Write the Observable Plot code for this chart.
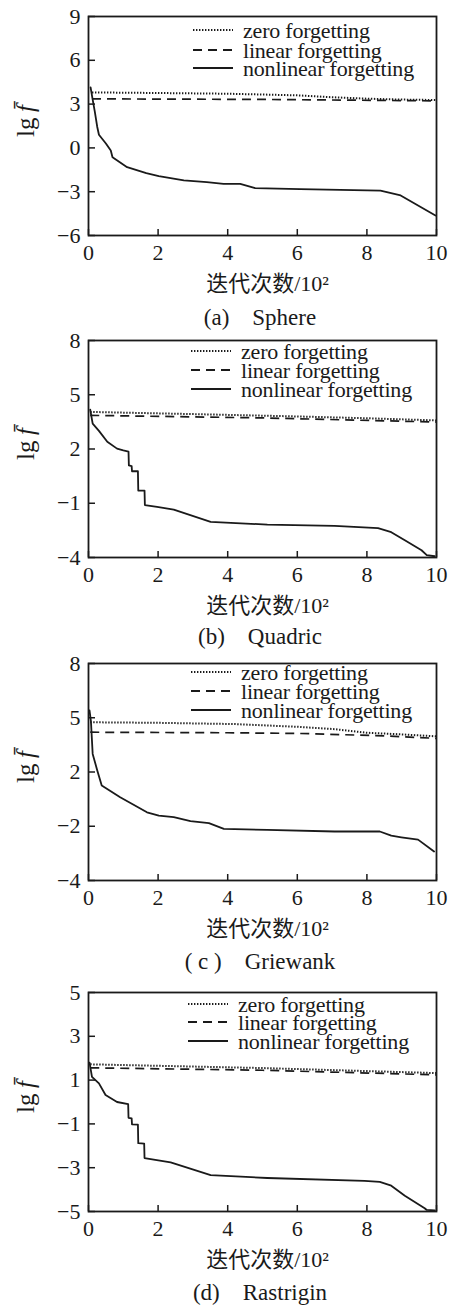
<!DOCTYPE html>
<html><head><meta charset="utf-8">
<script src="https://cdn.jsdelivr.net/npm/d3@7"></script>
<script src="https://cdn.jsdelivr.net/npm/@observablehq/plot@0.6"></script>
<style>
body{margin:0;background:#fff;}
#root{position:relative;width:449px;height:1306px;overflow:hidden;font-family:"Liberation Serif",serif;color:#1a1a1a;background:#fff;}
.panel{position:absolute;left:0;}
.caption{position:absolute;left:0;width:520px;text-align:center;font-size:23px;line-height:26px;white-space:pre;}
.legend{position:absolute;font-size:22px;line-height:17px;white-space:pre;letter-spacing:-0.2px;}
.legend .row{position:absolute;left:0;height:17px;}
.legend svg{position:absolute;left:0;top:-2px;}
.legend span{position:absolute;top:0;}
</style></head><body><div id="root"></div>
<script>
// ---------- shared ----------
const xTicks = [0, 2, 4, 6, 8, 10];
const seriesNames = ["zero forgetting", "linear forgetting", "nonlinear forgetting"];
const xTitle = "迭代次数/10²";

// ---------- (a) Sphere ----------
const sphereYTicks = [9, 6, 3, 0, -3, -6];
const sphereYLabels = ["9", "6", "3", "0", "−3", "−6"];
const sphereZero = [[0.1,3.8],[2,3.76],[4,3.71],[6,3.6],[7,3.47],[8,3.37],[9,3.31],[10,3.28]];
const sphereLinear = [[0.1,3.36],[5,3.32],[10,3.22]];
const sphereNonlinear = [[0.06,4.15],[0.12,3.3],[0.18,2.5],[0.25,1.45],[0.3,0.9],[0.5,0.3],[0.64,-0.18],[0.69,-0.64],[1.11,-1.32],[1.66,-1.73],[2.02,-1.94],[2.74,-2.23],[3.4,-2.35],[3.88,-2.46],[4.36,-2.46],[4.79,-2.76],[6.08,-2.83],[8.39,-2.92],[8.97,-3.26],[9.97,-4.63]];

// ---------- (b) Quadric ----------
const quadricYTicks = [8, 5, 2, -1, -4];
const quadricYLabels = ["8", "5", "2", "−1", "−4"];
const quadricZero = [[0.05,4.05],[3,3.93],[6,3.8],[8,3.7],[10,3.58]];
const quadricLinear = [[0.05,3.86],[5,3.72],[10,3.49]];
const quadricNonlinear = [[0.05,4.17],[0.12,3.4],[0.3,3.0],[0.54,2.4],[0.82,2.02],[1.0,1.92],[1.15,1.85],[1.16,1.09],[1.24,1.05],[1.25,0.77],[1.42,0.77],[1.43,-0.3],[1.61,-0.3],[1.62,-1.1],[1.97,-1.2],[2.45,-1.35],[3.51,-2.03],[5.14,-2.18],[7.07,-2.25],[8.32,-2.38],[8.7,-2.6],[9.09,-3.05],[9.57,-3.6],[9.72,-3.87],[9.95,-3.93]];

// ---------- (c) Griewank ----------
const griewankYTicks = [8, 5, 2, -1, -4];
const griewankYLabels = ["8", "5", "2", "−2", "−4"];
const griewankZero = [[0.05,4.75],[2,4.72],[4.2,4.65],[6,4.5],[7.07,4.37],[8,4.17],[9,4.08],[10,3.97]];
const griewankLinear = [[0.05,4.2],[4,4.17],[6.1,4.13],[8.5,4.0],[10,3.86]];
const griewankNonlinear = [[0.03,5.4],[0.07,4.8],[0.12,3.0],[0.25,2.1],[0.38,1.25],[0.91,0.6],[1.68,-0.23],[2.02,-0.41],[2.45,-0.5],[2.93,-0.72],[3.46,-0.83],[3.89,-1.15],[5.14,-1.2],[7.07,-1.29],[8.37,-1.29],[8.7,-1.52],[8.99,-1.61],[9.47,-1.74],[9.93,-2.4]];

// ---------- (d) Rastrigin ----------
const rastriginYTicks = [5, 3, 1, -1, -3, -5];
const rastriginYLabels = ["5", "3", "1", "−1", "−3", "−5"];
const rastriginZero = [[0.05,1.72],[5,1.55],[10,1.32]];
const rastriginLinear = [[0.05,1.56],[5,1.45],[10,1.24]];
const rastriginNonlinear = [[0.03,1.8],[0.1,1.15],[0.3,0.85],[0.49,0.32],[0.82,0.0],[1.14,-0.1],[1.15,-0.72],[1.24,-0.75],[1.25,-1.02],[1.42,-1.03],[1.43,-1.88],[1.6,-1.9],[1.61,-2.56],[2.36,-2.76],[3.51,-3.34],[5.14,-3.47],[7.93,-3.6],[8.37,-3.65],[8.7,-3.82],[9.09,-4.28],[9.66,-4.85],[9.72,-4.93],[9.95,-4.95]];

// ---------- layout ----------
const panels = [
  {caption: "(a)\u2003Sphere", yTicks: sphereYTicks, yLabels: sphereYLabels, zero: sphereZero, linear: sphereLinear, nonlinear: sphereNonlinear,
   frameTop: 16, frameBottom: 235, captionY: 318, legendRows: [16,36,54], legendX: 193},
  {caption: "(b)\u2003Quadric", yTicks: quadricYTicks, yLabels: quadricYLabels, zero: quadricZero, linear: quadricLinear, nonlinear: quadricNonlinear,
   frameTop: 340, frameBottom: 557, captionY: 637, legendRows: [13,32,51], legendX: 191},
  {caption: "( c )\u2003Griewank", yTicks: griewankYTicks, yLabels: griewankYLabels, zero: griewankZero, linear: griewankLinear, nonlinear: griewankNonlinear,
   frameTop: 663, frameBottom: 880, captionY: 962, legendRows: [11,30,49], legendX: 191},
  {caption: "(d)\u2003Rastrigin", yTicks: rastriginYTicks, yLabels: rastriginYLabels, zero: rastriginZero, linear: rastriginLinear, nonlinear: rastriginNonlinear,
   frameTop: 992, frameBottom: 1211, captionY: 1293, legendRows: [14,32,51], legendX: 188}
];

const ink = "#1a1a1a";
const dotted = "1.4,1.6";
const dashed = "9,6";
const mL = 88, mR = 13, mT = 10, mB = 62, W = 449;
const root = document.getElementById("root");

panels.forEach(p => {
  const innerH = p.frameBottom - p.frameTop;
  const innerW = W - mL - mR;
  const yDomain = [Math.min(...p.yTicks), Math.max(...p.yTicks)];
  const fmt = d => p.yLabels[p.yTicks.indexOf(d)];
  const chart = Plot.plot({
    width: W, height: innerH + mT + mB,
    marginLeft: mL, marginRight: mR, marginTop: mT, marginBottom: mB,
    style: {fontFamily: "'Liberation Serif', 'Noto Sans CJK SC', serif", fontSize: "22px", color: ink, background: "#fff", overflow: "visible"},
    x: {domain: [0, 10]},
    y: {domain: yDomain},
    marks: [
      Plot.line(p.zero, {x: d => d[0], y: d => d[1], stroke: ink, strokeWidth: 2, strokeDasharray: dotted, strokeLinecap: "butt"}),
      Plot.line(p.linear, {x: d => d[0], y: d => d[1], stroke: ink, strokeWidth: 1.7, strokeDasharray: dashed, strokeLinecap: "butt"}),
      Plot.line(p.nonlinear, {x: d => d[0], y: d => d[1], stroke: ink, strokeWidth: 1.8}),
      Plot.tickX(xTicks, {x: d => d, insetTop: innerH - 6, stroke: ink, strokeWidth: 1.5}),
      Plot.tickY(p.yTicks, {y: d => d, insetRight: innerW - 7, stroke: ink, strokeWidth: 1.5}),
      Plot.frame({stroke: ink, strokeWidth: 1.8}),
      Plot.axisX(xTicks, {tickSize: 0, tickPadding: 9, fontSize: 22, fill: ink}),
      Plot.axisY(p.yTicks, {tickSize: 0, tickPadding: 8, fontSize: 22, fill: ink, tickFormat: fmt}),
      Plot.text([xTitle], {frameAnchor: "bottom", dx: 5, dy: 48, lineAnchor: "middle", fontSize: 22, fill: ink}),
      Plot.text(["lg"], {frameAnchor: "left", dx: -63, dy: 11, rotate: -90, lineAnchor: "middle", fontSize: 25, fill: ink}),
      Plot.text(["f\u0304"], {frameAnchor: "left", dx: -63, dy: -14, rotate: -90, lineAnchor: "middle", fontSize: 25, fontStyle: "italic", fill: ink})
    ]
  });
  const div = document.createElement("div");
  div.className = "panel";
  div.style.top = (p.frameTop - mT) + "px";
  div.appendChild(chart);
  root.appendChild(div);

  // legend overlay
  const leg = document.createElement("div");
  leg.className = "legend";
  leg.style.left = p.legendX + "px";
  leg.style.top = p.frameTop + "px";
  const styles = [dotted, dashed, null];
  seriesNames.forEach((name, i) => {
    const row = document.createElement("div");
    row.className = "row";
    row.style.top = (p.legendRows[i] - 10) + "px";
    row.innerHTML = `<svg width="42" height="20"><line x1="0" x2="40" y1="10" y2="10" stroke="${ink}" stroke-width="${i===0?2:1.8}" ${styles[i] ? `stroke-dasharray="${styles[i]}"` : ""}/></svg><span style="left:50px">${name}</span>`;
    leg.appendChild(row);
  });
  root.appendChild(leg);

  const cap = document.createElement("div");
  cap.className = "caption";
  cap.style.top = (p.captionY - 13) + "px";
  cap.textContent = p.caption;
  root.appendChild(cap);
});
</script></body></html>
